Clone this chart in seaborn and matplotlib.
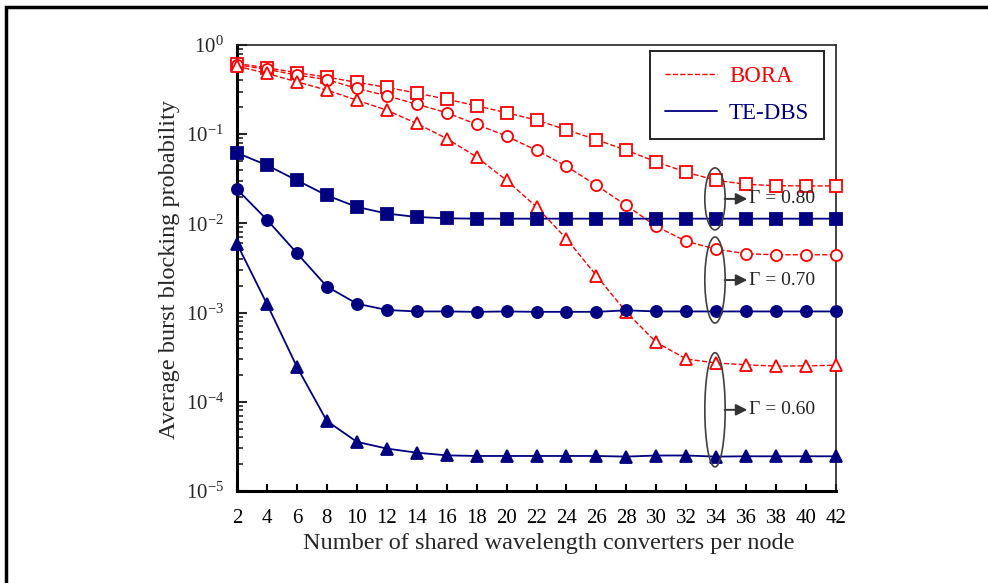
import numpy as np
import pandas as pd
import matplotlib
matplotlib.use("Agg")
import matplotlib.pyplot as plt
import seaborn as sns
from matplotlib.patches import Ellipse, Rectangle
from matplotlib.lines import Line2D
from matplotlib.ticker import FixedLocator, LogLocator, FuncFormatter, NullFormatter

# converters per node
converters = [2, 4, 6, 8, 10, 12, 14, 16, 18, 20, 22, 24, 26, 28, 30, 32, 34, 36, 38, 40, 42]

# BORA (dashed, open markers)
bora_080 = [0.62, 0.556, 0.489, 0.437, 0.381, 0.335, 0.289, 0.247, 0.208, 0.174, 0.144,
            0.112, 0.087, 0.066, 0.049, 0.0374, 0.0304, 0.0274, 0.0265, 0.0263, 0.0263]
bora_070 = [0.60, 0.533, 0.46, 0.41, 0.326, 0.27, 0.217, 0.174, 0.129, 0.095, 0.066,
            0.0437, 0.0267, 0.0159, 0.00925, 0.0063, 0.00514, 0.00457, 0.00445, 0.00445, 0.00445]
bora_060 = [0.58, 0.48, 0.387, 0.312, 0.241, 0.186, 0.132, 0.0894, 0.0556, 0.0304, 0.0153,
            0.00673, 0.0026, 0.00101, 0.000464, 0.000302, 0.000272, 0.00026, 0.000251, 0.000253, 0.000257]

# TE-DBS (solid, filled markers)
tedbs_080 = [0.0617, 0.0449, 0.0304, 0.0206, 0.0153, 0.0129, 0.0118, 0.0114, 0.0113, 0.0113, 0.0113,
             0.0113, 0.0113, 0.0113, 0.0113, 0.0113, 0.0113, 0.0113, 0.0113, 0.0113, 0.0113]
tedbs_070 = [0.0241, 0.011, 0.00464, 0.00196, 0.00126, 0.00107, 0.00103, 0.00103, 0.00102, 0.00103, 0.00102,
             0.00102, 0.00102, 0.00106, 0.00103, 0.00103, 0.00103, 0.00103, 0.00103, 0.00103, 0.00103]
tedbs_060 = [0.0059, 0.00125, 0.000247, 6.1e-5, 3.56e-5, 2.99e-5, 2.69e-5, 2.51e-5, 2.47e-5, 2.47e-5, 2.47e-5,
             2.47e-5, 2.47e-5, 2.43e-5, 2.5e-5, 2.5e-5, 2.43e-5, 2.45e-5, 2.45e-5, 2.45e-5, 2.45e-5]

gamma_labels = ["\u0393 = 0.80", "\u0393 = 0.70", "\u0393 = 0.60"]

red = "#ff0000"
navy = "#000080"

sns.set_style("ticks")
plt.rcParams["font.family"] = ["Liberation Serif", "DejaVu Serif"]
plt.rcParams["mathtext.fontset"] = "custom"
plt.rcParams["mathtext.rm"] = "Liberation Serif"

fig = plt.figure(figsize=(9.88, 5.83), dpi=100)
ax = fig.add_axes([237 / 988, 1 - 491 / 583, 599 / 988, 446 / 583])

series = [
    (bora_080, red, "s", "--", False),
    (bora_070, red, "o", "--", False),
    (bora_060, red, "^", "--", False),
    (tedbs_080, navy, "s", "-", True),
    (tedbs_070, navy, "o", "-", True),
    (tedbs_060, navy, "^", "-", True),
]
sizes = {"s": 9, "o": 8, "^": 9}
for vals, col, mk, ls, filled in series:
    df = pd.DataFrame({"x": converters, "y": vals})
    sns.lineplot(data=df, x="x", y="y", ax=ax, color=col, linestyle=ls,
                 linewidth=1.0 if ls == "--" else 1.3,
                 marker=mk, markersize=sizes[mk], markeredgewidth=1.3,
                 markerfacecolor=col if filled else "white", markeredgecolor=col,
                 legend=False, clip_on=False, zorder=3)

ax.set_yscale("log")
ax.set_xlim(2, 42)
ax.set_ylim(1e-5, 1)
ax.xaxis.set_major_locator(FixedLocator(converters))
ax.yaxis.set_major_locator(LogLocator(base=10, numticks=10))
ax.yaxis.set_minor_locator(LogLocator(base=10, subs=np.arange(2, 10), numticks=10))
ax.yaxis.set_minor_formatter(NullFormatter())
ax.yaxis.set_major_formatter(FuncFormatter(
    lambda v, p: r"$\mathregular{10^{%d}}$" % int(round(np.log10(v)))))

ax.tick_params(axis="x", which="major", direction="in", length=5, width=1.5,
               labelsize=15, pad=13, top=False, colors="black")
ax.tick_params(axis="y", which="major", direction="in", length=7, width=1.5,
               labelsize=15, pad=9.5, right=False)
ax.tick_params(axis="y", which="minor", direction="in", length=4, width=1.2, right=False)
ax.tick_params(axis="x", which="minor", bottom=False)

for s in ["left", "bottom"]:
    ax.spines[s].set_linewidth(2.2)
    ax.spines[s].set_color("black")
for s in ["top", "right"]:
    ax.spines[s].set_linewidth(1.2)
    ax.spines[s].set_color("#222222")

ax.set_xlabel("Number of shared wavelength converters per node", fontsize=17.5)
ax.set_ylabel("Average burst blocking probability", fontsize=17.5)
ax.xaxis.set_label_coords(0.52, -0.117)
ax.xaxis.label.set_va("center")
ax.yaxis.set_label_coords(-0.112, 0.496)
ax.yaxis.label.set_va("center")

# grouping ellipses with arrows and gamma labels
ell_pos = [(0.655, 0.139), (0.473, 0.193), (0.182, 0.256)]
for (cy, h), lab in zip(ell_pos, gamma_labels):
    ax.add_patch(Ellipse((0.798, cy), 0.034, h, transform=ax.transAxes, fill=False,
                         edgecolor="#404040", linewidth=1.2, zorder=4, clip_on=False))
    ax.annotate("", xy=(0.852, cy), xytext=(0.814, cy), xycoords="axes fraction",
                arrowprops=dict(arrowstyle="-|>", color="#333333", lw=1.4, mutation_scale=17,
                                shrinkA=0, shrinkB=0))
    ax.text(0.855, cy, lab, transform=ax.transAxes, fontsize=14, va="center", ha="left",
            color="#222222")

handles = [Line2D([], [], color=red, linestyle="--", linewidth=1.0),
           Line2D([], [], color=navy, linestyle="-", linewidth=1.3)]
leg = ax.legend(handles, ["BORA", "TE-DBS"], loc="upper right",
                bbox_to_anchor=(0.98, 0.987), fontsize=16.5, labelcolor="linecolor",
                frameon=True, fancybox=False, framealpha=1, edgecolor="#222222",
                handlelength=2.3, labelspacing=0.7, borderpad=0.65, handletextpad=0.5,
                borderaxespad=0)
leg.get_frame().set_linewidth(1.4)

# outer frame of the figure (left and top edges visible)
fig.add_artist(Rectangle((6 / 988, -0.1), 1.2, 1 - 7 / 583 + 0.1, transform=fig.transFigure,
                         fill=False, edgecolor="black", linewidth=2.5))

fig.savefig("out.png", dpi=100)
